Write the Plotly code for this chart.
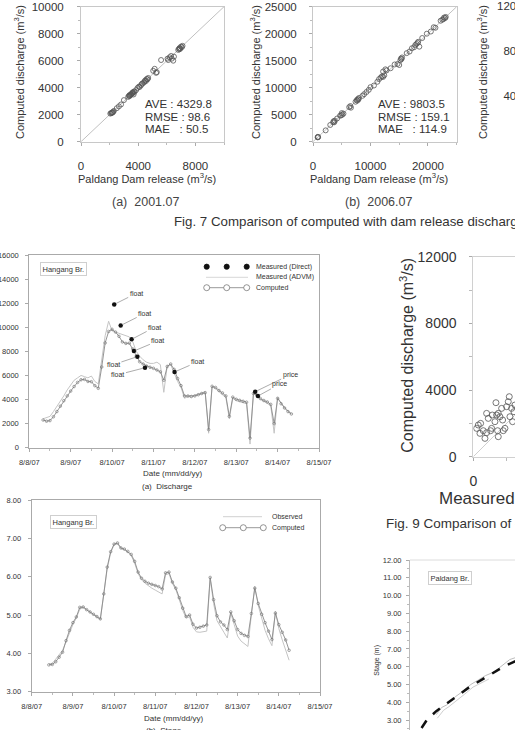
import plotly.graph_objects as go
import pandas as pd

W, H = 515, 730
FONT = "Liberation Sans, Arial, sans-serif"
TXT = "#333333"

# ---------------- Fig. 7 (a) 2001.07 ----------------
rel_2001 = [2050, 2100, 2150, 2200, 2250, 2300, 2180, 2500, 2650, 2800, 3000,
            3300, 3350, 3400, 3450, 3500, 3550, 3600, 3650, 3700, 3750, 3400, 3500, 3600, 3680,
            3850, 3950, 4050, 4100, 4200, 4250, 4300, 4400, 4450, 4500, 4550, 4600, 4650, 4700,
            5050, 5150, 5250, 5300, 5600,
            6050, 6100, 6200, 6300, 6350, 6450, 6500,
            6800, 6850, 6900, 6950, 7000, 7050, 7100, 6900]
comp_2001 = [2080, 2120, 2130, 2180, 2200, 2280, 2150, 2480, 2620, 2760, 3080,
             3320, 3400, 3380, 3460, 3480, 3560, 3580, 3640, 3720, 3700, 3450, 3520, 3650, 3500,
             3820, 3980, 4080, 4050, 4180, 4280, 4320, 4380, 4480, 4550, 4500, 4650, 4620, 4720,
             5250, 5400, 5100, 5150, 6050,
             6150, 6050, 6250, 6350, 6150, 6000, 6300,
             6800, 6880, 6950, 6900, 7050, 7000, 7100, 6850]
stats_2001 = ["AVE : 4329.8", "RMSE : 98.6", "MAE\u00a0\u00a0\u00a0: 50.5"]

# ---------------- Fig. 7 (b) 2006.07 ----------------
rel_2006 = [800, 850, 900, 2200, 3000, 3500, 3600, 3700, 3800, 4200,
            4700, 4900, 5000, 5100, 5300, 6300, 6500, 6600,
            7400, 7600, 7700, 7800, 7900, 8000, 8600, 8900, 9300, 9700, 10000,
            10600, 11200, 11500, 11800, 12000, 12200, 12400, 12200, 12600, 12800,
            13500, 14200, 14700, 15000, 15200, 15300, 15400, 15500,
            16300, 16800, 17200, 17600, 17800, 18000, 18200, 18500, 18300,
            19000, 19800, 20500, 21000, 21300,
            22200, 22500, 22700, 22800, 23000, 23100]
comp_2006 = [800, 900, 850, 2100, 3100, 3600, 3800, 3600, 3900, 4300,
             4800, 4900, 5300, 5000, 5200, 6400, 6600, 6300,
             7400, 7700, 7600, 7900, 7800, 8100, 8500, 8800, 9200, 9600, 10100,
             10400, 11100, 11600, 11900, 12100, 12000, 12300, 13000, 13400, 13200,
             13600, 14300, 14400, 14200, 15100, 15400, 15300, 15600,
             16400, 16700, 17300, 17500, 17900, 18100, 18300, 17600, 18500,
             19200, 20000, 20400, 21200, 21100,
             22400, 22600, 22700, 23000, 22900, 23100]
stats_2006 = ["AVE : 9803.5", "RMSE : 159.1", "MAE\u00a0\u00a0\u00a0: 114.9"]

# third (cut-off) panel of Fig. 7: only its y tick labels are visible
c_ticks = ["12000", "8000", "4000", "0"]

# ---------------- (a) Discharge, Hangang Br. (2-hour values) ----------------
q_start = "2007-08-08 08:00"
q_computed = [2300, 2200, 2250, 2570, 3000, 3450, 3900, 4300, 4700, 5080, 5420, 5640,
              5670, 5500, 5480, 5150, 4930, 6700, 8700, 9650, 9830, 9600, 9250, 8780,
              8660, 8680, 8200, 7600, 7140, 6950, 6780, 6680, 6590, 6450, 6300, 5600,
              6750, 6950, 6500, 5750, 5150, 4300, 4290, 4250, 4300, 4400, 4500, 4570,
              1500, 5100, 5000, 4750, 4550, 4300, 2600, 4200, 4020, 3930, 3850, 3780,
              800, 4500, 4350, 4080, 3920, 3800, 3600, 2000, 4100, 3650, 3300, 3000, 2800]
q_advm = [2400, 2500, 2600, 3000, 3400, 3800, 4300, 4800, 5200, 5600, 5800, 6000,
          5900, 5800, 5950, 5500, 5300, 7500, 9300, 10500, 9700, 9600, 9500, 9400,
          9300, 9200, 8800, 8000, 7600, 7300, 7100, 7000, 7000, 7100, 6900, 4600,
          6800, 6900, 6200, 5500, 5000, 4100, 4250, 4200, 4350, 4450, 4550, 4650,
          1200, 5050, 4900, 4650, 4400, 4150, 2400, 4100, 3900, 3800, 3700, 3650,
          300, 4600, 4300, 4000, 3850, 3700, 3500, 1200, 4200, 3700, 3350, 3050, 2850]
direct_time = ["2007-08-10 01:15", "2007-08-10 05:00", "2007-08-10 11:20", "2007-08-10 12:40",
               "2007-08-10 14:40", "2007-08-10 19:05", "2007-08-11 12:15",
               "2007-08-13 11:00", "2007-08-13 12:35"]
direct_q = [11900, 10150, 9000, 8030, 7560, 6640, 6290, 4650, 4290]
direct_method = ["float", "float", "float", "float", "float", "float", "float", "price", "price"]
label_offsets = [(22, -11), (24, -12), (23, -12), (24, -10), (-24, 8), (-27, 7), (23, -10),
                 (35, -17), (22, -12)]

# ---------------- (b) Stage, Hangang Br. (2-hour values) ----------------
h_start = "2007-08-08 10:00"
h_computed = [3.70, 3.71, 3.78, 3.90, 4.03, 4.33, 4.60, 4.80, 4.95, 5.20, 5.21, 5.14,
              5.08, 5.02, 4.96, 4.90, 5.55, 6.25, 6.65, 6.85, 6.88, 6.75, 6.72, 6.66,
              6.58, 6.40, 6.12, 5.96, 5.88, 5.83, 5.80, 5.77, 5.74, 5.68, 6.10, 6.12,
              5.86, 5.70, 5.45, 5.18, 4.96, 5.00, 4.76, 4.66, 4.68, 4.71, 4.74, 5.98,
              5.40, 4.98, 4.82, 4.74, 4.62, 5.08, 4.85, 4.62, 4.52, 4.47, 4.44, 5.04,
              5.70, 5.30, 5.02, 4.80, 4.58, 4.36, 5.05, 4.75, 4.55, 4.35, 4.08]
h_observed = [3.72, 3.74, 3.85, 3.98, 4.08, 4.30, 4.55, 4.75, 4.92, 5.15, 5.20, 5.13,
              5.06, 5.00, 4.94, 4.88, 5.50, 6.20, 6.62, 6.83, 6.86, 6.73, 6.70, 6.64,
              6.55, 6.35, 6.08, 5.92, 5.83, 5.76, 5.70, 5.65, 5.60, 5.55, 6.05, 6.08,
              5.82, 5.66, 5.40, 5.12, 4.92, 4.95, 4.68, 4.56, 4.55, 4.56, 4.58, 5.95,
              5.30, 4.85, 4.68, 4.55, 4.40, 5.05, 4.75, 4.45, 4.32, 4.25, 4.18, 5.00,
              5.75, 5.25, 4.90, 4.60, 4.38, 4.20, 5.10, 4.65, 4.35, 4.10, 3.82]

date_ticks = ["2007-08-08", "2007-08-09", "2007-08-10", "2007-08-11",
              "2007-08-12", "2007-08-13", "2007-08-14", "2007-08-15"]
date_labels = ["8/8/07", "8/9/07", "8/10/07", "8/11/07", "8/12/07", "8/13/07", "8/14/07", "8/15/07"]

# ---------------- Fig. 9 scatter (measured vs computed) ----------------
meas9 = [200, 300, 440, 400, 700, 800, 1100, 1300, 1400, 1500, 1600, 1760, 1460, 1800, 1900,
         1700, 2000, 2160, 2100, 2200, 2360, 2300, 2440, 2500, 1500, 1040, 600, 900, 1140, 800, 1360]
comp9 = [1700, 1900, 2000, 1400, 1100, 1440, 1700, 2100, 2500, 2600, 2400, 2200, 1560, 1560, 1700,
         2900, 3000, 3600, 3300, 2400, 2100, 2900, 2700, 3100, 1200, 1560, 1560, 2300, 2500, 2600, 3240]

# ---------------- Paldang Br. stage-discharge ----------------
rating_q = [1100, 1600, 2500, 4100, 5700, 7300, 8900, 10000, 11000]
rating_h = [2.55, 3.00, 3.50, 4.20, 4.87, 5.43, 6.00, 6.30, 6.55]
paldang_q = [2500, 3000, 3500, 4300, 5000, 5800, 6500, 7200, 8000, 8800, 9500, 10000]
paldang_h = [3.30, 3.70, 3.85, 4.30, 4.60, 5.00, 5.25, 5.50, 5.70, 6.10, 6.40, 6.50]
paldang_q2 = [2600, 3200, 3700, 4500, 5200, 6000, 6800, 7500]
paldang_h2 = [3.10, 3.55, 3.75, 4.10, 4.45, 4.85, 5.10, 5.30]


def fx(px):
    return px / W


def fy(py):
    return 1 - py / H


fig = go.Figure()

# Panel A
fig.add_trace(go.Scatter(x=[0, 10000], y=[0, 10000], mode="lines",
                         line=dict(color="#c0c0c0", width=1), xaxis="x", yaxis="y"))
fig.add_trace(go.Scatter(x=rel_2001, y=comp_2001, mode="markers",
                         marker=dict(symbol="circle-open", size=5, color="#555", line=dict(width=0.8)),
                         xaxis="x", yaxis="y"))
# Panel B
fig.add_trace(go.Scatter(x=[0, 25000], y=[0, 25000], mode="lines",
                         line=dict(color="#c0c0c0", width=1), xaxis="x2", yaxis="y2"))
fig.add_trace(go.Scatter(x=rel_2006, y=comp_2006, mode="markers",
                         marker=dict(symbol="circle-open", size=5, color="#555", line=dict(width=0.8)),
                         xaxis="x2", yaxis="y2"))

# Panel D: discharge
q_times = pd.date_range(q_start, periods=len(q_computed), freq="2h")
fig.add_trace(go.Scatter(x=q_times, y=q_advm, mode="lines",
                         line=dict(color="#c4c4c4", width=1), xaxis="x3", yaxis="y3"))
fig.add_trace(go.Scatter(x=q_times, y=q_computed, mode="lines+markers",
                         line=dict(color="#8a8a8a", width=0.9),
                         marker=dict(symbol="circle-open", size=2.6, color="#707070", line=dict(width=0.6)),
                         xaxis="x3", yaxis="y3"))
fig.add_trace(go.Scatter(x=direct_time, y=direct_q, mode="markers",
                         marker=dict(symbol="circle", size=4.5, color="#111"),
                         xaxis="x3", yaxis="y3"))

# Panel E: stage
h_times = pd.date_range(h_start, periods=len(h_computed), freq="2h")
fig.add_trace(go.Scatter(x=h_times, y=h_observed, mode="lines",
                         line=dict(color="#c4c4c4", width=1), xaxis="x4", yaxis="y4"))
fig.add_trace(go.Scatter(x=h_times, y=h_computed, mode="lines+markers",
                         line=dict(color="#8a8a8a", width=0.9),
                         marker=dict(symbol="circle-open", size=2.6, color="#707070", line=dict(width=0.6)),
                         xaxis="x4", yaxis="y4"))

# Panel F: Fig 9 scatter
fig.add_trace(go.Scatter(x=[0, 12000], y=[0, 12000], mode="lines",
                         line=dict(color="#cfcfcf", width=1), xaxis="x5", yaxis="y5"))
fig.add_trace(go.Scatter(x=meas9, y=comp9, mode="markers",
                         marker=dict(symbol="circle-open", size=6, color="#555", line=dict(width=0.8)),
                         xaxis="x5", yaxis="y5"))

# Panel G: Paldang rating
fig.add_trace(go.Scatter(x=paldang_q, y=paldang_h, mode="lines",
                         line=dict(color="#bdbdbd", width=1), xaxis="x6", yaxis="y6"))
fig.add_trace(go.Scatter(x=paldang_q2, y=paldang_h2, mode="lines",
                         line=dict(color="#cfcfcf", width=1), xaxis="x6", yaxis="y6"))
fig.add_trace(go.Scatter(x=rating_q, y=rating_h, mode="lines",
                         line=dict(color="#111", width=2.5, dash="dash"), xaxis="x6", yaxis="y6"))


# Texts that run past the page edge: drawn on a full-page pixel overlay so they clip like the scan
def edge_text(text, px, py, size, pos="middle right"):
    fig.add_trace(go.Scatter(x=[px], y=[py], mode="text", text=[text], textposition=pos,
                             marker=dict(size=1), cliponaxis=True,
                             textfont=dict(family=FONT, size=size, color=TXT),
                             xaxis="x8", yaxis="y8", hoverinfo="skip"))


M3 = "(m<sup>3</sup>/s)"
for i, s in enumerate(c_ticks):
    edge_text(s, 529, 7 + 45 * i, 11.5, pos="middle left")
edge_text("Fig. 7 Comparison of computed with dam release discharge", 174, 223, 13.3)
edge_text("Measured discharge " + M3, 439, 500, 17)
edge_text("Fig. 9 Comparison of computed with measured discharge", 386, 525, 13.5)
edge_text("(b)\u00a0\u00a0Stage", 146, 731, 8)


def axis(**kw):
    base = dict(showgrid=False, zeroline=False, showline=True, mirror=True, automargin=False,
                linecolor="#c8c8c8", linewidth=1, ticks="outside", ticklen=3,
                tickcolor="#aaa", tickfont=dict(family=FONT, size=11.5, color=TXT))
    base.update(kw)
    return base


small = dict(family=FONT, size=7.5, color=TXT)

layout = dict(
    template="none",
    width=W, height=H, autosize=False, margin=dict(l=0, r=0, t=0, b=0, pad=0, autoexpand=False),
    paper_bgcolor="white", plot_bgcolor="rgba(0,0,0,0)", showlegend=False,
    font=dict(family=FONT, color=TXT),
    xaxis=axis(domain=[fx(81), fx(224)], range=[0, 10000], anchor="y",
               tickvals=[0, 4000, 8000], tickformat="d", ticklabelstandoff=10,
               minor=dict(tickmode="linear", tick0=0, dtick=2000, ticks="outside", ticklen=2, tickcolor="#bbb")),
    yaxis=axis(domain=[fy(141.7), fy(6.7)], range=[0, 10000], anchor="x",
               dtick=2000, tickformat="d", ticklabelstandoff=11,
               minor=dict(tickmode="linear", tick0=0, dtick=1000, ticks="outside", ticklen=2, tickcolor="#bbb")),
    xaxis2=axis(domain=[fx(313), fx(456.7)], range=[0, 25000], anchor="y2",
                tickvals=[0, 10000, 20000], tickformat="d", ticklabelstandoff=10,
                minor=dict(tickmode="linear", tick0=0, dtick=5000, ticks="outside", ticklen=2, tickcolor="#bbb")),
    yaxis2=axis(domain=[fy(141.7), fy(6.7)], range=[0, 25000], anchor="x2",
                dtick=5000, tickformat="d", ticklabelstandoff=10,
                minor=dict(tickmode="linear", tick0=0, dtick=2500, ticks="outside", ticklen=2, tickcolor="#bbb")),
    xaxis3=axis(domain=[fx(29.3), fx(319)], range=["2007-08-08", "2007-08-15"], anchor="y3", type="date",
                tickvals=date_ticks, ticktext=date_labels, tickfont=small, ticklabelstandoff=4,
                linecolor="#aaa",
                minor=dict(tick0="2007-08-08", dtick=43200000, ticks="outside", ticklen=2, tickcolor="#bbb")),
    yaxis3=axis(domain=[fy(447.7), fy(255)], range=[0, 16000], anchor="x3", dtick=2000,
                tickformat="d", tickfont=small, ticklabelstandoff=5, linecolor="#aaa"),
    xaxis4=axis(domain=[fx(31.7), fx(320)], range=["2007-08-08", "2007-08-15"], anchor="y4", type="date",
                tickvals=date_ticks, ticktext=date_labels, tickfont=small, ticklabelstandoff=4,
                linecolor="#aaa",
                minor=dict(tick0="2007-08-08", dtick=43200000, ticks="outside", ticklen=2, tickcolor="#bbb")),
    yaxis4=axis(domain=[fy(691.7), fy(500)], range=[3, 8], anchor="x4", dtick=1,
                tickformat=".2f", tickfont=small, ticklabelstandoff=5, linecolor="#aaa"),
    xaxis5=axis(domain=[fx(473.3), 1], range=[0, 2504], anchor="y5", tickvals=[0, 4000],
                tickfont=dict(family=FONT, size=14, color=TXT), ticklabelstandoff=8, linecolor="#d0d0d0",
                minor=dict(tickmode="linear", tick0=0, dtick=2000, ticks="outside", ticklen=3, tickcolor="#bbb")),
    yaxis5=axis(domain=[fy(456.7), fy(256.7)], range=[0, 12000], anchor="x5", dtick=4000,
                tickformat="d", tickfont=dict(family=FONT, size=14, color=TXT), ticklabelstandoff=10,
                linecolor="#d0d0d0",
                minor=dict(tickmode="linear", tick0=0, dtick=2000, ticks="outside", ticklen=3, tickcolor="#bbb")),
    xaxis6=axis(domain=[fx(410), 1], range=[0, 10000], anchor="y6", showline=False, mirror=False,
                showticklabels=False, ticks=""),
    yaxis6=axis(domain=[0, fy(560)], range=[3 - 10 / 17.8, 12], anchor="x6", mirror=False,
                tickvals=[3, 4, 5, 6, 7, 8, 9, 10, 11, 12],
                tickformat=".2f", tickfont=dict(family=FONT, size=7.5, color=TXT), ticklabelstandoff=3,
                linecolor="#bbb",
                minor=dict(tickmode="linear", tick0=0, dtick=0.5, ticks="outside", ticklen=2, tickcolor="#bbb")),
    xaxis8=dict(domain=[0, 1], range=[0, W], anchor="y8", visible=False, fixedrange=True, automargin=False),
    yaxis8=dict(domain=[0, 1], range=[H, 0], anchor="x8", visible=False, fixedrange=True, automargin=False),
)

ann = []


def A(text, px, py, size, xanchor="center", yanchor="middle", angle=0, color=TXT, **kw):
    d = dict(text=text, x=fx(px), y=fy(py), xref="paper", yref="paper", showarrow=False,
             xanchor=xanchor, yanchor=yanchor, textangle=angle,
             font=dict(family=FONT, size=size, color=color))
    d.update(kw)
    ann.append(d)


# Fig 7 panels
A("Computed discharge " + M3, 19, 72, 11, angle=-90)
A("Paldang Dam release " + M3, 147, 178, 11)
for i, s in enumerate(stats_2001):
    A(s, 142.7, 104 + 12.6 * i, 11.5, xanchor="left")
A("Computed discharge " + M3, 255, 72, 11, angle=-90)
A("Paldang Dam release " + M3, 379, 178, 11)
for i, s in enumerate(stats_2006):
    A(s, 376, 104 + 12.6 * i, 11.5, xanchor="left")
A("Computed discharge " + M3, 482, 72, 11, angle=-90)
A("(a)\u00a0\u00a02001.07", 145, 202, 12.5, color="#444")
A("(b)\u00a0\u00a02006.07", 378, 202, 12.5, color="#444")

# Discharge panel
A("Hangang Br.", 63.5, 269, 7.5, bordercolor="#cfcfcf", borderwidth=1, borderpad=1.5, bgcolor="white")
A("Measured (Direct)", 254.3, 266.7, 7, xanchor="left")
A("Measured (ADVM)", 254.3, 277.3, 7, xanchor="left")
A("Computed", 254.3, 287.7, 7, xanchor="left")
A("Date (mm/dd/yy)", 172, 473.3, 8)
A("(a)\u00a0\u00a0Discharge", 167, 486.7, 8)
for t, q, m, (dx, dy) in zip(direct_time, direct_q, direct_method, label_offsets):
    ann.append(dict(text=m, x=t, y=q, xref="x3", yref="y3", showarrow=True, arrowhead=0,
                    arrowwidth=0.7, arrowcolor="#888", ax=dx, ay=dy, standoff=2,
                    font=dict(family=FONT, size=7, color=TXT)))

# Stage panel
A("Hangang Br.", 73.5, 522, 7.5, bordercolor="#cfcfcf", borderwidth=1, borderpad=1.5, bgcolor="white")
A("Observed", 270, 516.7, 7, xanchor="left")
A("Computed", 270, 527.7, 7, xanchor="left")
A("Date (mm/dd/yy)", 173, 718.3, 8)

# Fig 9 panel
A("Computed discharge " + M3, 406.7, 355, 16, angle=-90)

# Paldang panel
A("Paldang Br.", 450, 577.7, 7.5, bordercolor="#cfcfcf", borderwidth=1, borderpad=1.5, bgcolor="white")
A("Stage (m)", 376.7, 660, 7, angle=-90)

layout["annotations"] = ann

# legend symbols / frame lines (paper coordinates)
shapes = []


def line(x0, y0, x1, y1, color, width=1):
    shapes.append(dict(type="line", xref="paper", yref="paper", x0=fx(x0), y0=fy(y0),
                       x1=fx(x1), y1=fy(y1), line=dict(color=color, width=width)))


def circle(cx, cy, r, fill, color):
    shapes.append(dict(type="circle", xref="paper", yref="paper", x0=fx(cx - r), x1=fx(cx + r),
                       y0=fy(cy + r), y1=fy(cy - r), fillcolor=fill, line=dict(color=color, width=0.8)))


for cx in (206.7, 226.7, 246.7):
    circle(cx, 266.7, 2.6, "#111", "#111")
line(206, 277.3, 248, 277.3, "#d8d8d8")
line(206.7, 287.7, 246.7, 287.7, "#999")
for cx in (206.7, 226.7, 246.7):
    circle(cx, 287.7, 3, "white", "#777")
line(223, 516.7, 262, 516.7, "#d0d0d0")
line(222.7, 527.7, 263.3, 527.7, "#999")
for cx in (222.7, 243.3, 263.3):
    circle(cx, 527.7, 3, "white", "#777")
line(410, 560, 515, 560, "#dcdcdc")
layout["shapes"] = shapes

fig.update_layout(**layout)
fig.write_html("out.html", config={"displayModeBar": False})
